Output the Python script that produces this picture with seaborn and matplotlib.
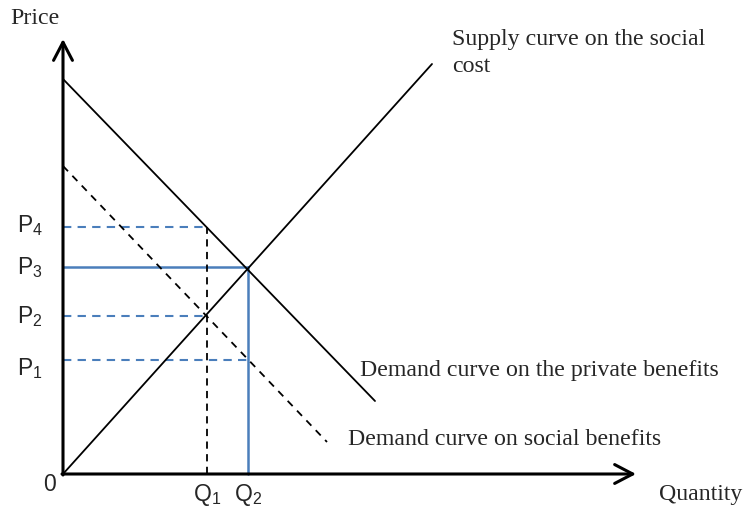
import seaborn as sns
import matplotlib.pyplot as plt

# values (origin at the corner of the two axes)
supply_x = [0, 369]
supply_y = [0, 410]
private_x = [0, 312]
private_y = [395, 73]
social_x = [0, 264]
social_y = [308, 32]

q_values = [144, 185]            # Q1, Q2
p_values = [114, 158, 207, 247]  # P1, P2, P3, P4
q_labels = ["Q$_1$", "Q$_2$"]
p_labels = ["P$_1$", "P$_2$", "P$_3$", "P$_4$"]

x_axis_end = 573
y_axis_end = 435

sns.set_style("white")
plt.rcParams['font.family'] = ['Liberation Serif', 'DejaVu Serif']
plt.rcParams['mathtext.default'] = 'regular'

blue = "#4a7ebb"

fig = plt.figure(figsize=(7.44, 5.10), dpi=100)
ax = fig.add_axes([0, 0, 1, 1])
ax.set_xlim(-63, 681)
ax.set_ylim(-35, 475)
ax.axis("off")

# guide lines to the axes
q1, q2 = q_values
p1, p2, p3, p4 = p_values
ax.plot([0, q1], [p4, p4], color=blue, lw=1.5, ls=(0, (4, 3)))
ax.plot([0, q1], [p2, p2], color=blue, lw=1.5, ls=(0, (4, 3)))
ax.plot([0, q2], [p1, p1], color=blue, lw=1.5, ls=(0, (4, 3)))
ax.plot([0, q2], [p3, p3], color=blue, lw=1.8)
ax.plot([q2, q2], [0, p3], color=blue, lw=1.8)
ax.plot([q1, q1], [0, p4], color="black", lw=1.3, ls=(0, (4, 3)))

# the three curves
sns.lineplot(x=supply_x, y=supply_y, color="black", lw=1.3, ax=ax)
sns.lineplot(x=private_x, y=private_y, color="black", lw=1.3, ax=ax)
sns.lineplot(x=social_x, y=social_y, color="black", lw=1.3, ax=ax,
             linestyle=(0, (4, 3.5)))

# axes with open arrow heads
arrow = dict(arrowstyle="->,head_length=1.3,head_width=0.68", lw=2.2,
             color="black", shrinkA=0, shrinkB=0)
ax.annotate("", xy=(0, y_axis_end), xytext=(0, -1), arrowprops=arrow)
ax.annotate("", xy=(x_axis_end, 0), xytext=(-1, 0), arrowprops=arrow)

serif = 17.2
ax.text(-53, 456, "Price", fontsize=serif, va="center", ha="left")
ax.text(596, -20, "Quantity", fontsize=serif, va="center", ha="left")
ax.text(389, 435, "Supply curve on the social", fontsize=serif,
        va="center", ha="left")
ax.text(389, 408, "cost", fontsize=serif, va="center", ha="left")
ax.text(297, 104, "Demand curve on the private benefits", fontsize=serif,
        va="center", ha="left")
ax.text(285, 35, "Demand curve on social benefits", fontsize=serif,
        va="center", ha="left")

sans = ['Liberation Sans', 'DejaVu Sans']
ax.text(-14, -10, "0", fontsize=16.5, family=sans, va="center", ha="center")
for q, lab in zip(q_values, q_labels):
    ax.text(q - 14, -20, lab, fontsize=16.5, family=sans, va="center", ha="left")
label_shift = [-8, 0, 0, 2]
for p, lab, dy in zip(p_values, p_labels, label_shift):
    ax.text(-46, p + dy, lab, fontsize=16.5, family=sans, va="center", ha="left")

fig.savefig("out.png", dpi=100)
